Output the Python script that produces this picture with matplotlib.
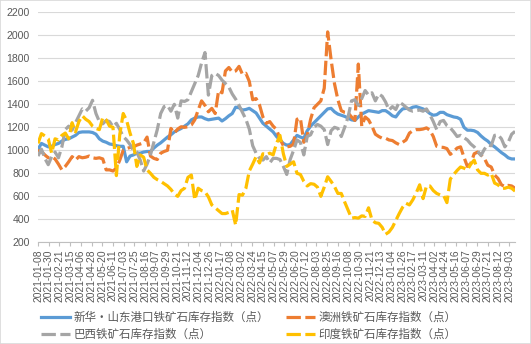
import matplotlib
matplotlib.use('Agg')
import matplotlib.pyplot as plt
from matplotlib.patches import Rectangle
import pandas as pd

plt.rcParams['font.family'] = ['Liberation Sans', 'Noto Sans CJK SC']

# weekly observations, 2021-01-08 .. 2023-09-15
dates = pd.date_range('2021-01-08', periods=141, freq='7D')

labels = ['新华·山东港口铁矿石库存指数（点）',
          '澳洲铁矿石库存指数（点）',
          '巴西铁矿石库存指数（点）',
          '印度铁矿石库存指数（点）']

blue = [1010, 1060, 1045, 1030, 1035, 1050, 1060, 1080, 1095, 1100,
        1115, 1130, 1155, 1160, 1160, 1160, 1155, 1140, 1100, 1080,
        1070, 1055, 1050, 1040, 1035, 1035, 900, 950, 960, 975,
        975, 985, 990, 990, 1020, 1045, 1065, 1090, 1115, 1135,
        1160, 1175, 1190, 1210, 1230, 1265, 1280, 1290, 1290, 1275,
        1265, 1270, 1275, 1280, 1255, 1275, 1300, 1320, 1375, 1370,
        1350, 1355, 1365, 1345, 1325, 1280, 1235, 1210, 1185, 1160,
        1120, 1090, 1060, 1045, 1050, 1090, 1130, 1115, 1105, 1170,
        1210, 1240, 1270, 1300, 1330, 1360, 1365, 1335, 1315, 1305,
        1295, 1280, 1265, 1260, 1290, 1315, 1330, 1345, 1340, 1335,
        1330, 1345, 1345, 1325, 1300, 1290, 1330, 1360, 1365, 1360,
        1375, 1380, 1370, 1360, 1345, 1320, 1305, 1310, 1330, 1330,
        1310, 1300, 1290, 1285, 1270, 1200, 1175, 1175, 1170, 1155,
        1125, 1100, 1080, 1050, 1030, 1005, 980, 960, 935, 925,
        925]

orange = [1000, 990, 960, 935, 945, 925, 880, 830, 860, 900,
          945, 915, 945, 935, 940, 950, 935, 930, 935, 925,
          830, 830, 820, 845, 915, 1000, 1015, 1025, 1030, 1045,
          1055, 1065, 1115, 950, 930, 920, 975, 990, 1000, 1190,
          1150, 1185, 1205, 1200, 1205, 1220, 1265, 1350, 1430, 1390,
          1335, 1365, 1320, 1520, 1500, 1690, 1720, 1680, 1690, 1730,
          1660, 1670, 1600, 1440, 1450, 1395, 1290, 1235, 1250, 1210,
          1180, 1100, 1040, 1030, 1035, 1055, 1270, 1280, 1070, 1130,
          1270, 1370, 1400, 1430, 1540, 2030, 1790, 1580, 1440, 1345,
          1330, 1325, 1290, 1260, 1750, 1210, 1290, 1265, 1210, 1140,
          1120, 1105, 1105, 1090, 1085, 1065, 1050, 1070, 1090, 1150,
          1170, 1180, 1180, 1185, 1195, 1175, 1120, 1035, 1028, 1025,
          1015, 965, 990, 1020, 1030, 940, 860, 885, 970, 985,
          960, 930, 870, 855, 785, 755, 700, 685, 695, 690,
          670]

gray = [950, 1010, 930, 875, 945, 985, 935, 1030, 1180, 1210,
        1175, 1240, 1300, 1360, 1340, 1370, 1435, 1320, 1250, 1230,
        1260, 1250, 1205, 1235, 1180, 1120, 1090, 1050, 1000, 985,
        915, 820, 880, 960, 1070, 1180, 1320, 1380, 1390, 1340,
        1400, 1280, 1430, 1425, 1440, 1510, 1580, 1650, 1760, 1850,
        1480, 1650, 1670, 1650, 1610, 1580, 1550, 1490, 1445, 1390,
        1330, 1270, 1185, 1040, 975, 930, 915, 945, 890, 930,
        930, 920, 860, 790, 920, 1000, 1090, 1070, 960, 1120,
        1135, 1200, 1225, 1210, 1180, 1050, 1170, 1200, 1190, 1120,
        1200, 1290, 1430, 1440, 1390, 1450, 1520, 1480, 1500, 1430,
        1490, 1470, 1420, 1350, 1380, 1355, 1420, 1400, 1375, 1350,
        1340, 1345, 1350, 1340, 1360, 1310, 1250, 1180, 1250, 1260,
        1215, 1195, 1160, 1120, 1130, 1110, 1090, 1055, 1030, 995,
        955, 1010, 1045, 1040, 1130, 1135, 1100, 1030, 1070, 1140,
        1165]

yellow = [1060, 1145, 1125, 1100, 975, 1100, 1090, 1130, 1150, 1100,
          1240, 1160, 1250, 1300, 1270, 1250, 1210, 1190, 1180, 1285,
          1265, 1210, 1200, 780, 1140, 1320, 1260, 1150, 1060, 860,
          960, 940, 830, 800, 765, 745, 730, 710, 690, 660,
          620, 600, 650, 670, 765, 785, 570, 670, 650, 640,
          595, 525, 500, 475, 450, 450, 460, 480, 350, 615,
          610, 670, 820, 880, 945, 890, 970, 960, 975, 960,
          1060, 1130, 970, 860, 880, 900, 800, 790, 730, 690,
          710, 705, 680, 600, 680, 770, 730, 685, 625, 625,
          550, 480, 410, 415, 410, 430, 425, 500, 395, 370,
          365, 330, 270, 290, 330, 390, 450, 505, 540, 525,
          570, 630, 700, 580, 690, 690, 650, 625, 612, 610,
          545, 750, 790, 825, 855, 845, 830, 880, 915, 830,
          800, 800, 785, 800, 715, 700, 670, 670, 680, 670,
          645]

colors = ['#5B9BD5', '#ED7D31', '#A5A5A5', '#FFC000']
text_color = '#595959'
long_dash = (0, (4.5, 1.4))

fig = plt.figure(figsize=(5.31, 3.44), dpi=100)
ax = fig.add_axes([0.0716, 0.2956, 0.8984, 0.6686])

l_blue, = ax.plot(dates, blue, color=colors[0], lw=2.3, solid_joinstyle='round')
l_orange, = ax.plot(dates, orange, color=colors[1], lw=2.3, linestyle=long_dash)
l_gray, = ax.plot(dates, gray, color=colors[2], lw=2.3, linestyle=long_dash)
l_yellow, = ax.plot(dates, yellow, color=colors[3], lw=2.3, linestyle=long_dash)

ax.set_ylim(200, 2200)
ax.set_yticks(range(200, 2201, 200))
ax.set_xlim(dates[0], dates[-1])

tick_dates = pd.date_range('2021-01-08', '2023-09-03', freq='22D')
ax.set_xticks(tick_dates)
ax.set_xticklabels([d.strftime('%Y-%m-%d') for d in tick_dates], rotation=90)

ax.grid(axis='y', color='#d9d9d9', lw=0.8)
ax.set_axisbelow(True)
for s in ['top', 'right', 'left']:
    ax.spines[s].set_visible(False)
ax.spines['bottom'].set_color('#bfbfbf')
ax.tick_params(axis='x', length=3, color='#bfbfbf', labelsize=7.4,
               labelcolor=text_color, pad=2)
ax.tick_params(axis='y', length=0, labelsize=7.6, labelcolor=text_color, pad=6)

# legend in two columns, same order as the original
fig.legend([l_blue, l_gray, l_orange, l_yellow],
           [labels[0], labels[2], labels[1], labels[3]],
           ncol=2, loc='upper left', bbox_to_anchor=(0.066, 0.112),
           frameon=False, borderpad=0, handlelength=2.5, handletextpad=0.3,
           columnspacing=1.5, labelspacing=0.3,
           prop={'family': ['Noto Sans CJK SC'], 'size': 8.3},
           labelcolor=text_color)

# chart area border
fig.patches.append(Rectangle((0, 0), 1, 1, transform=fig.transFigure,
                             fill=False, edgecolor='#d9d9d9', lw=1.2))

fig.savefig('out.png', dpi=100)
